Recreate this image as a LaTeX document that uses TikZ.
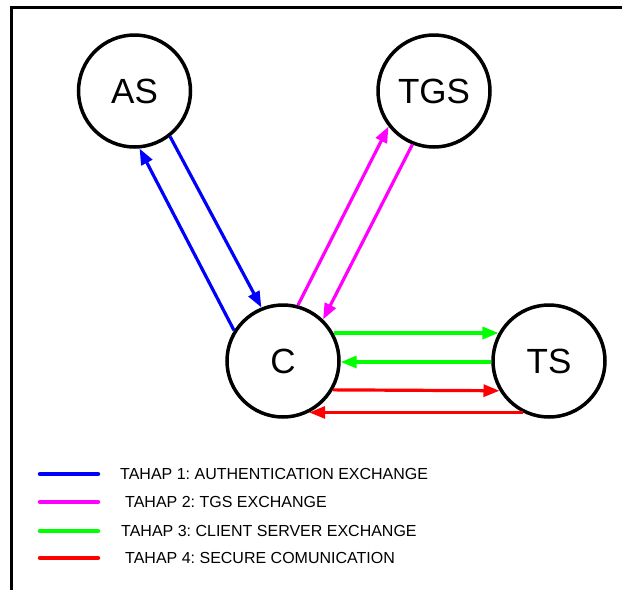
\documentclass[tikz,border=0pt]{standalone}
\usepackage{fontspec}
\setmainfont{Liberation Sans}
\usetikzlibrary{arrows.meta}

\definecolor{stepone}{RGB}{0,0,255}
\definecolor{steptwo}{RGB}{255,0,255}
\definecolor{stepthree}{RGB}{0,255,0}
\definecolor{stepfour}{RGB}{255,0,0}

\frenchspacing

\begin{document}
\begin{tikzpicture}[x=1pt, y=-1pt,
  party/.style={circle, draw, line width=3.5pt, minimum size=112pt, inner sep=0pt,
                font=\fontsize{35}{40}\selectfont},
  msg/.style={line width=3.2pt, -{Triangle[length=16pt, width=12pt]}},
  keyline/.style={line width=4.5pt, line cap=round},
  keytext/.style={anchor=west, inner sep=0pt, font=\fontsize{16}{18}\selectfont}]

\useasboundingbox (0,0) rectangle (622,590);

% frame along the top and left edges
\draw[line width=3pt] (11,590) -- (11,7) -- (622,7);

% the four parties
\node[party] (AS)  at (134.5,91) {AS};
\node[party] (TGS) at (434,91)   {TGS};
\node[party] (C)   at (283,361)  {C};
\node[party] (TS)  at (549,361)  {TS};

% stage 1: authentication exchange
\draw[msg, stepone] (C.148) -- (AS.-85);
\draw[msg, stepone] (AS.-52) -- (C.112);

% stage 2: TGS exchange
\draw[msg, steptwo] (C.75) -- (TGS.218);
\draw[msg, steptwo] (TGS.-112) -- (C.46);

% stage 3: client/server exchange
\draw[msg, stepthree] (C.29) -- (TS.151);
\draw[msg, stepthree] (TS.181) -- (C.-1);

% stage 4: secure communication
\draw[msg, stepfour] (C.-30.6) -- (TS.-149.4);
\draw[msg, stepfour] (TS.-117) -- (C.-63);

% legend
\coordinate (k1a) at (40,474); \coordinate (k1b) at (98,474);
\coordinate (k2a) at (40,502); \coordinate (k2b) at (98,502);
\coordinate (k3a) at (40,531); \coordinate (k3b) at (98,531);
\coordinate (k4a) at (40,558); \coordinate (k4b) at (98,558);
\draw[keyline, stepone]   (k1a) -- (k1b);
\draw[keyline, steptwo]   (k2a) -- (k2b);
\draw[keyline, stepthree] (k3a) -- (k3b);
\draw[keyline, stepfour]  (k4a) -- (k4b);
\node[keytext] (t1) at (120,474) {TAHAP 1: AUTHENTICATION EXCHANGE};
\node[keytext] (t2) at (125,502) {TAHAP 2: TGS EXCHANGE};
\node[keytext] (t3) at (121,531) {TAHAP 3: CLIENT SERVER EXCHANGE};
\node[keytext] (t4) at (125,558) {TAHAP 4: SECURE COMUNICATION};
\end{tikzpicture}
\end{document}
